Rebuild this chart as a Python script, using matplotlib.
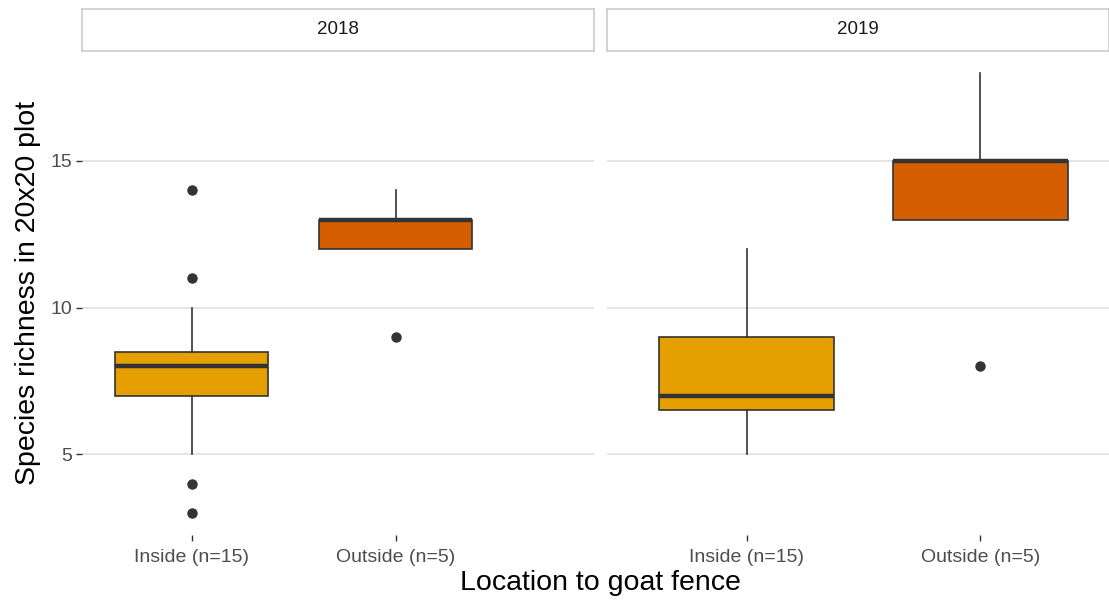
import matplotlib
matplotlib.use("Agg")
import matplotlib.pyplot as plt

plt.rcParams['font.family'] = ['Liberation Sans', 'DejaVu Sans']

# species richness per 20x20 plot, summarised as box statistics
years = ["2018", "2019"]
locations = ["Inside (n=15)", "Outside (n=5)"]
box_colors = ["#E69F00", "#D55E00"]

q1 = {"2018": [7, 12], "2019": [6.5, 13]}
med = {"2018": [8, 13], "2019": [7, 15]}
q3 = {"2018": [8.5, 13], "2019": [9, 15]}
whislo = {"2018": [5, 12], "2019": [5, 13]}
whishi = {"2018": [10, 14], "2019": [12, 18]}
fliers = {"2018": [[14, 11, 4, 3], [9]], "2019": [[], [8]]}

W, H = 1109, 601
fig = plt.figure(figsize=(W / 100, H / 100), dpi=100)

# panel extents in pixels: left, right, and the x range of each facet
panels = {"2018": (82, 594, (0.463, 2.973)), "2019": (607, 1109, (0.40, 2.552))}
ptop, pbot = 51, 535
stop = 9

edge = "#333333"
for i, yr in enumerate(years):
    x0, x1, xl = panels[yr]
    ax = fig.add_axes([x0 / W, (H - pbot) / H, (x1 - x0) / W, (pbot - ptop) / H])
    stats = []
    for j in range(2):
        stats.append(dict(q1=q1[yr][j], med=med[yr][j], q3=q3[yr][j],
                          whislo=whislo[yr][j], whishi=whishi[yr][j],
                          fliers=fliers[yr][j]))
    bp = ax.bxp(stats, positions=[1, 2], widths=0.75, patch_artist=True,
                showcaps=False,
                boxprops=dict(edgecolor=edge, linewidth=1.2),
                medianprops=dict(color=edge, linewidth=3.2, solid_capstyle="butt"),
                whiskerprops=dict(color=edge, linewidth=1.2),
                flierprops=dict(marker="o", markerfacecolor=edge, markeredgecolor=edge,
                                markersize=6.5))
    for patch, c in zip(bp["boxes"], box_colors):
        patch.set_facecolor(c)
    ax.set_xlim(*xl)
    ax.set_ylim(2.25, 18.75)
    ax.set_yticks([5, 10, 15])
    ax.set_xticks([1, 2])
    ax.set_xticklabels(locations)
    ax.grid(axis="y", color="#DEDEDE", linewidth=1.1)
    ax.set_axisbelow(True)
    for s in ax.spines.values():
        s.set_visible(False)
    ax.tick_params(axis="x", length=4, width=1.0, color=edge, pad=6,
                   labelsize=14, labelcolor="#4D4D4D")
    if i == 0:
        ax.tick_params(axis="y", length=4, width=1.0, color=edge, pad=3,
                       labelsize=14, labelcolor="#4D4D4D")
    else:
        ax.tick_params(axis="y", left=False, labelleft=False)

    # facet strip
    sx = fig.add_axes([x0 / W, (H - ptop) / H, (x1 - x0) / W, (ptop - stop) / H])
    sx.set_xticks([])
    sx.set_yticks([])
    for s in sx.spines.values():
        s.set_color("#CCCCCC")
        s.set_linewidth(1.2)
    sx.text(0.5, 0.5, yr, ha="center", va="center", fontsize=13.5, color="#1A1A1A",
            transform=sx.transAxes)

fig.text(600 / W, 1 - 583 / H, "Location to goat fence",
         ha="center", va="center", fontsize=20.5)
fig.text(28 / W, 1 - 293 / H, "Species richness in 20x20 plot",
         ha="center", va="center", rotation=90, fontsize=20.5)

fig.savefig("out.png", dpi=100)
